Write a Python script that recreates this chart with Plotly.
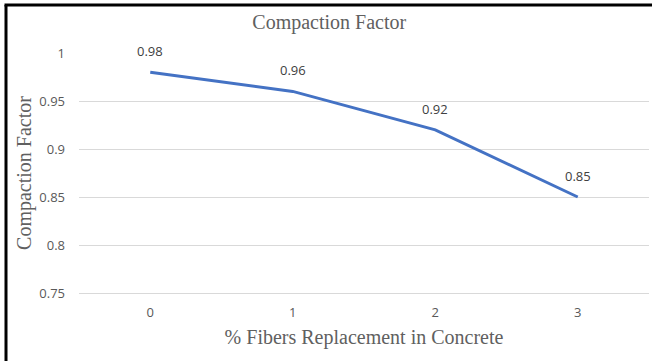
import plotly.graph_objects as go

categories = ["0", "1", "2", "3"]
values = [0.98, 0.96, 0.92, 0.85]
value_labels = ["0.98", "0.96", "0.92", "0.85"]
y_ticks = [0.75, 0.8, 0.85, 0.9, 0.95, 1]

W, H = 652, 361
L, R, T, B = 79, 3, 53, 68
pw, ph = W - L - R, H - T - B

def px_x(p):
    return (p - L) / pw

def px_y(p):
    return (H - B - p) / ph

serif = "Liberation Serif, Times New Roman, serif"
sans = "Open Sans, Liberation Sans, sans-serif"
gray = "#595959"

fig = go.Figure()
fig.add_trace(go.Scatter(
    x=categories, y=values, mode="lines",
    line=dict(color="#4472C4", width=3),
    hoverinfo="skip", showlegend=False,
))

for c, v, t in zip(categories, values, value_labels):
    fig.add_annotation(x=c, y=v, text=t, showarrow=False, yshift=21,
                       font=dict(family=sans, size=13, color="#404040"))

# border (cropped frame)
fig.add_shape(type="line", xref="paper", yref="paper",
              x0=px_x(6), x1=px_x(6), y0=px_y(370), y1=px_y(5),
              line=dict(color="black", width=3))
fig.add_shape(type="line", xref="paper", yref="paper",
              x0=px_x(4.5), x1=px_x(660), y0=px_y(5), y1=px_y(5),
              line=dict(color="black", width=3))

fig.update_layout(
    width=W, height=H,
    margin=dict(l=L, r=R, t=T, b=B),
    paper_bgcolor="white", plot_bgcolor="white",
    title=dict(text="Compaction Factor", x=0.505, xanchor="center",
               y=1 - 22 / H, yanchor="middle", yref="container",
               font=dict(family=serif, size=20, color="#606060")),
    xaxis=dict(type="category", range=[-0.5, 3.5], showgrid=False,
               showline=True, linecolor="#D9D9D9", linewidth=1,
               ticks="", ticklabelstandoff=7,
               tickfont=dict(family=sans, size=13, color=gray),
               title=dict(text="% Fibers Replacement in Concrete", standoff=10,
                          font=dict(family=serif, size=20, color="#606060"))),
    yaxis=dict(range=[0.75, 1], tickvals=y_ticks, showgrid=True,
               gridcolor="#D9D9D9", gridwidth=1, zeroline=False,
               ticks="", ticklabelstandoff=13,
               tickfont=dict(family=sans, size=13, color=gray),
               title=dict(text="Compaction Factor", standoff=2,
                          font=dict(family=serif, size=20, color="#606060"))),
)

fig.write_html("out.html")
